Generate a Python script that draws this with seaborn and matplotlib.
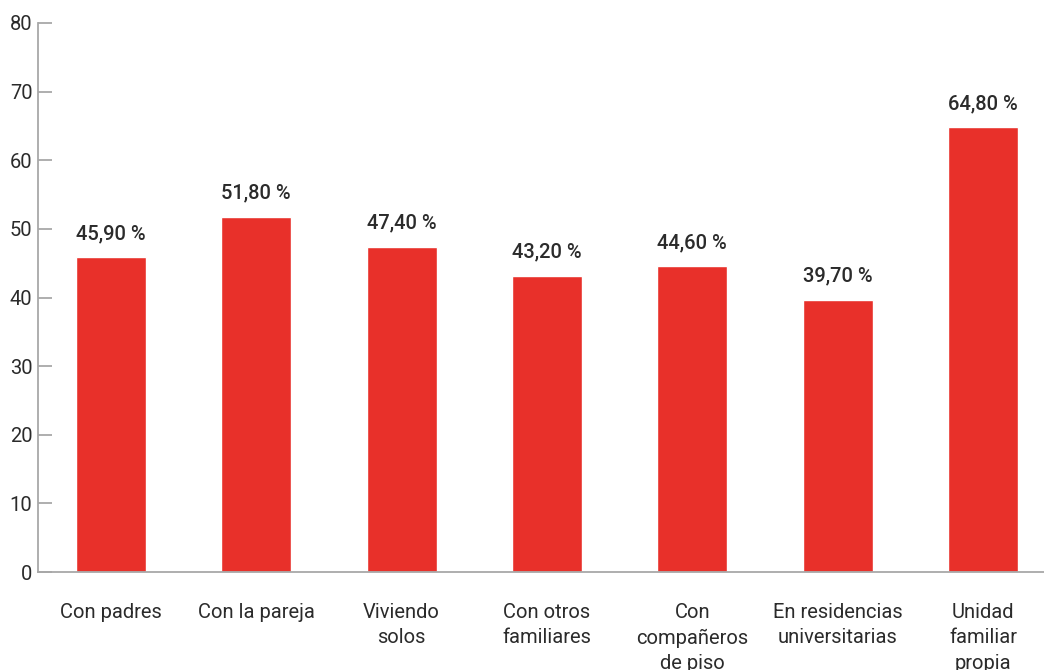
import matplotlib
matplotlib.use("Agg")
import matplotlib.pyplot as plt
import seaborn as sns
import pandas as pd

categorias = ["Con padres", "Con la pareja", "Viviendo\nsolos", "Con otros\nfamiliares",
              "Con\ncompañeros\nde piso", "En residencias\nuniversitarias", "Unidad\nfamiliar\npropia"]
valores = [45.9, 51.8, 47.4, 43.2, 44.6, 39.7, 64.8]
etiquetas = ["45,90 %", "51,80 %", "47,40 %", "43,20 %", "44,60 %", "39,70 %", "64,80 %"]
yticks = [0, 10, 20, 30, 40, 50, 60, 70, 80]

sns.set_theme(style="white")
plt.rcParams["font.family"] = ["Roboto", "DejaVu Sans"]

rojo = "#E8302A"
gris = "#A8A8A8"
texto = "#2B2B2B"

df = pd.DataFrame({"cat": categorias, "val": valores})

fig = plt.figure(figsize=(10.44, 6.70), dpi=100)
ax = fig.add_axes([38 / 1044, 1 - 572 / 670, 1 - 38 / 1044, 549 / 670])

sns.barplot(data=df, x="cat", y="val", color=rojo, saturation=1, width=0.48, ax=ax)

for i, (v, t) in enumerate(zip(valores, etiquetas)):
    ax.annotate(t, (i, v), xytext=(0, 10), textcoords="offset points",
                ha="center", va="bottom", fontsize=14.5, fontweight="medium", color=texto)

ax.set_xlim(-0.502, 6.42)
ax.set_ylim(0, 80)
ax.set_yticks(yticks)
ax.set_xlabel("")
ax.set_ylabel("")

for s in ["top", "right"]:
    ax.spines[s].set_visible(False)
for s in ["left", "bottom"]:
    ax.spines[s].set_color(gris)
    ax.spines[s].set_linewidth(1.3)

ax.tick_params(axis="y", left=True, direction="in", length=10, width=1.3, color=gris,
               labelsize=14.5, labelcolor=texto, pad=4)
ax.tick_params(axis="x", bottom=False, length=0, labelsize=14.5, labelcolor=texto, pad=22)
for lbl in ax.get_xticklabels():
    lbl.set_linespacing(1.45)
    lbl.set_va("top")

fig.savefig("out.png", dpi=100)
